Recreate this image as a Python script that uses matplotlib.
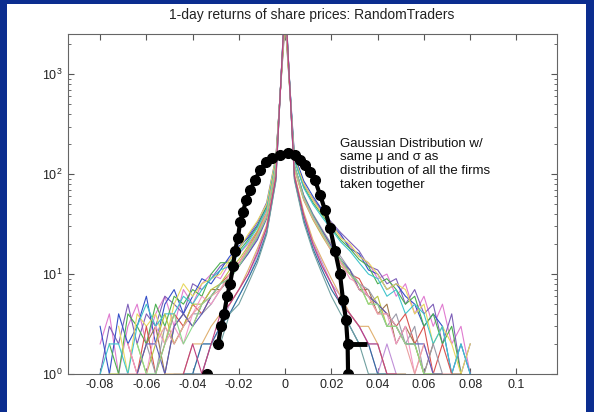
import numpy as np
import matplotlib
matplotlib.use("Agg")
import matplotlib.pyplot as plt
from matplotlib.patches import Rectangle

plt.rcParams.update({
    "font.family": ["Liberation Sans", "DejaVu Sans"],
    "font.size": 9,
    "xtick.direction": "in",
    "ytick.direction": "in",
})

# histogram bin centres shared by every firm (return per day)
BIN_CENTERS = np.round(np.arange(-20, 21) * 0.004, 3)

# per-firm counts: left wing (outermost first), centre bin, right wing (innermost first)
FIRMS = [
    # broad firms
    ([2, 4, 1, 3, 5, 2, 4, 6, 3, 7, 5, 8, 10, 9, 13, 16, 20, 27, 44, 145], 3600,
     [150, 82, 55, 41, 30, 24, 19, 15, 13, 9, 10, 6, 8, 4, 6, 3, 5, 2, 3, 1]),
    ([1, 3, 2, 5, 2, 4, 3, 6, 5, 4, 8, 7, 9, 12, 14, 18, 24, 33, 52, 150], 3300,
     [142, 78, 57, 43, 33, 26, 21, 17, 12, 11, 8, 9, 5, 7, 4, 5, 2, 4, 1, 2]),
    ([3, 1, 4, 2, 3, 6, 2, 5, 7, 4, 6, 9, 8, 11, 15, 19, 23, 31, 48, 138], 3900,
     [155, 86, 60, 44, 31, 25, 18, 16, 11, 10, 7, 8, 6, 5, 3, 4, 3, 1, 2, 1]),
    ([0, 2, 1, 4, 3, 2, 5, 3, 6, 5, 7, 6, 10, 13, 13, 17, 22, 30, 47, 142], 3700,
     [138, 75, 52, 39, 29, 22, 18, 14, 12, 8, 9, 7, 5, 6, 3, 4, 2, 3, 1, 0]),
    ([2, 0, 3, 1, 4, 3, 4, 2, 5, 8, 6, 8, 9, 10, 14, 18, 25, 34, 50, 148], 3400,
     [146, 80, 56, 40, 32, 23, 20, 15, 13, 10, 7, 8, 7, 4, 5, 2, 3, 2, 1, 2]),
    ([1, 2, 2, 1, 3, 5, 3, 4, 4, 6, 5, 7, 9, 11, 12, 16, 21, 29, 45, 135], 4100,
     [140, 73, 50, 37, 28, 21, 17, 13, 10, 9, 6, 7, 4, 5, 4, 2, 3, 1, 2, 1]),
    # typical firms
    ([0, 1, 0, 2, 1, 3, 1, 2, 4, 3, 5, 4, 6, 8, 10, 13, 18, 26, 40, 122], 4400,
     [120, 60, 38, 27, 19, 14, 10, 9, 6, 5, 4, 3, 4, 2, 3, 1, 2, 1, 0, 1]),
    ([1, 0, 2, 0, 1, 2, 3, 1, 3, 4, 3, 5, 7, 7, 9, 12, 17, 24, 38, 118], 4700,
     [116, 57, 36, 25, 18, 13, 11, 7, 7, 4, 5, 2, 3, 2, 1, 2, 0, 1, 1, 0]),
    ([0, 0, 1, 1, 0, 2, 1, 3, 2, 3, 4, 4, 5, 7, 9, 12, 16, 23, 37, 115], 5000,
     [124, 62, 40, 28, 20, 15, 11, 8, 7, 5, 3, 4, 2, 3, 1, 2, 1, 0, 1, 0]),
    ([0, 1, 1, 0, 2, 1, 2, 4, 2, 3, 5, 5, 7, 8, 11, 14, 19, 27, 41, 125], 4300,
     [112, 55, 35, 24, 17, 12, 10, 8, 5, 6, 3, 3, 2, 2, 1, 1, 1, 0, 0, 1]),
    ([1, 0, 0, 2, 1, 1, 3, 2, 3, 2, 4, 6, 5, 7, 10, 13, 17, 25, 39, 120], 4800,
     [118, 58, 37, 26, 18, 13, 9, 8, 6, 4, 4, 2, 3, 1, 2, 1, 0, 1, 0, 0]),
    ([0, 0, 1, 0, 1, 2, 2, 1, 3, 4, 3, 4, 6, 8, 9, 12, 16, 22, 36, 112], 5200,
     [121, 61, 39, 27, 19, 14, 11, 7, 6, 5, 4, 3, 2, 2, 2, 1, 1, 0, 0, 0]),
    ([0, 1, 0, 1, 1, 0, 2, 3, 2, 3, 4, 5, 6, 7, 10, 13, 18, 25, 40, 119], 4500,
     [115, 56, 36, 25, 17, 13, 10, 7, 6, 4, 4, 3, 2, 1, 2, 0, 1, 1, 0, 0]),
    ([1, 0, 1, 0, 2, 1, 1, 2, 4, 2, 3, 5, 6, 8, 9, 12, 17, 24, 37, 116], 4900,
     [122, 59, 38, 26, 18, 14, 10, 8, 5, 5, 3, 3, 2, 2, 1, 1, 0, 1, 0, 0]),
    # tight firms
    ([0, 0, 0, 0, 0, 0, 1, 0, 1, 1, 1, 2, 2, 3, 4, 6, 9, 15, 27, 92], 5800,
     [94, 37, 19, 12, 8, 5, 4, 3, 2, 2, 1, 1, 1, 0, 1, 0, 0, 0, 0, 0]),
    ([0, 0, 0, 0, 0, 1, 0, 0, 1, 0, 1, 1, 2, 3, 5, 7, 10, 17, 30, 96], 5500,
     [98, 40, 21, 13, 8, 6, 4, 3, 2, 1, 2, 1, 0, 1, 0, 0, 0, 0, 0, 0]),
    ([0, 0, 0, 0, 0, 0, 0, 1, 0, 1, 1, 2, 2, 3, 4, 6, 9, 14, 26, 88], 6200,
     [90, 35, 18, 11, 7, 5, 3, 2, 2, 1, 1, 0, 1, 0, 0, 0, 0, 0, 0, 0]),
    ([0, 0, 0, 0, 1, 0, 0, 1, 1, 1, 2, 2, 3, 4, 5, 7, 11, 18, 31, 100], 5300,
     [100, 42, 22, 14, 9, 6, 4, 3, 3, 2, 1, 1, 1, 0, 0, 1, 0, 0, 0, 0]),
    ([0, 0, 0, 0, 0, 0, 1, 0, 0, 1, 1, 1, 2, 2, 4, 5, 8, 13, 25, 85], 6400,
     [87, 33, 17, 10, 6, 4, 3, 2, 1, 1, 1, 0, 0, 1, 0, 0, 0, 0, 0, 0]),
    ([0, 0, 0, 0, 0, 1, 0, 1, 0, 1, 2, 1, 2, 4, 5, 7, 10, 16, 29, 94], 5700,
     [96, 39, 20, 12, 8, 5, 4, 3, 2, 2, 1, 1, 0, 0, 0, 0, 0, 0, 0, 0]),
]

FIRM_COLORS = ["#e07bd0", "#7d5fb8", "#3550c8", "#4caf50", "#e8d860", "#40c4cc",
               "#d9534f", "#a0784a", "#9a9aa8", "#b8c440", "#f29ac8", "#5a5ab8",
               "#eaa0a0", "#8cd88c", "#a0bce8", "#c090d8", "#2f6e9e", "#e0b070",
               "#70a0a0", "#c04080"]

# Gaussian with the pooled mean/std (zero-count bin left out -> nan)
GAUSS_X = [-0.0338, np.nan, -0.0290, -0.0277, -0.0264, -0.0251, -0.0238, -0.0225,
           -0.0217, -0.0204, -0.0195, -0.0182, -0.0169, -0.0152, -0.0130, -0.0109,
           -0.0083, -0.0057, -0.0022, 0.0012, 0.0042, 0.0064, 0.0086, 0.0107,
           0.0129, 0.0151, 0.0172, 0.0194, 0.0216, 0.0237, 0.0250, 0.0263,
           0.0270, 0.0272]
GAUSS_Y = [1, np.nan, 2, 3, 4, 6, 8, 12, 17, 23, 33, 42, 55, 69, 87, 110, 132, 145,
           155, 162, 155, 138, 123, 105, 87, 62, 44, 29, 17, 10, 5.5, 3.5, 2, 1]
GAUSS_TAIL_X = [0.0270, 0.0354]
GAUSS_TAIL_Y = [2, 2]

XTICKS = [-0.08, -0.06, -0.04, -0.02, 0, 0.02, 0.04, 0.06, 0.08, 0.1]
XTICK_LABELS = ["-0.08", "-0.06", "-0.04", "-0.02", "0", "0.02", "0.04", "0.06", "0.08", "0.1"]

fig = plt.figure(figsize=(5.94, 4.12), dpi=100)
fig.patch.set_facecolor("#0b2d8f")
fig.patches.append(Rectangle((7 / 594, 0), 579 / 594, 408 / 412, transform=fig.transFigure,
                             facecolor="white", edgecolor="none", zorder=-5))

ax = fig.add_axes([67.5 / 594, 38 / 412, 489 / 594, 339.7 / 412])
ax.set_yscale("log", nonpositive="mask")

for (left, centre, right), color in zip(FIRMS, FIRM_COLORS):
    counts = np.array(left + [centre] + right, dtype=float)
    counts[counts == 0] = np.nan
    ax.plot(BIN_CENTERS, counts, color=color, linewidth=0.8)

ax.plot(GAUSS_X, GAUSS_Y, color="black", linewidth=3, marker="o", markersize=7,
        markerfacecolor="black", markeredgecolor="black")
ax.plot(GAUSS_TAIL_X, GAUSS_TAIL_Y, color="black", linewidth=3.5, solid_capstyle="butt")

ax.text(0.0237, 232, "Gaussian Distribution w/\nsame \u03bc and \u03c3 as\n"
        "distribution of all the firms\ntaken together",
        ha="left", va="top", fontsize=9.5, linespacing=1.2, color="#111111")

ax.set_xlim(-0.0941, 0.1173)
ax.set_ylim(1, 10 ** 3.4)
ax.set_xticks(XTICKS)
ax.set_xticklabels(XTICK_LABELS)
ax.tick_params(which="both", top=True, right=True, colors="#555555", labelcolor="#222222",
               labelsize=9)
ax.tick_params(which="major", length=4)
ax.tick_params(which="minor", length=2)
for spine in ax.spines.values():
    spine.set_color("#666666")
    spine.set_linewidth(0.8)

ax.set_title("1-day returns of share prices: RandomTraders", fontsize=10, pad=11, color="#222222")

fig.savefig("out.png", dpi=100, facecolor=fig.get_facecolor())
